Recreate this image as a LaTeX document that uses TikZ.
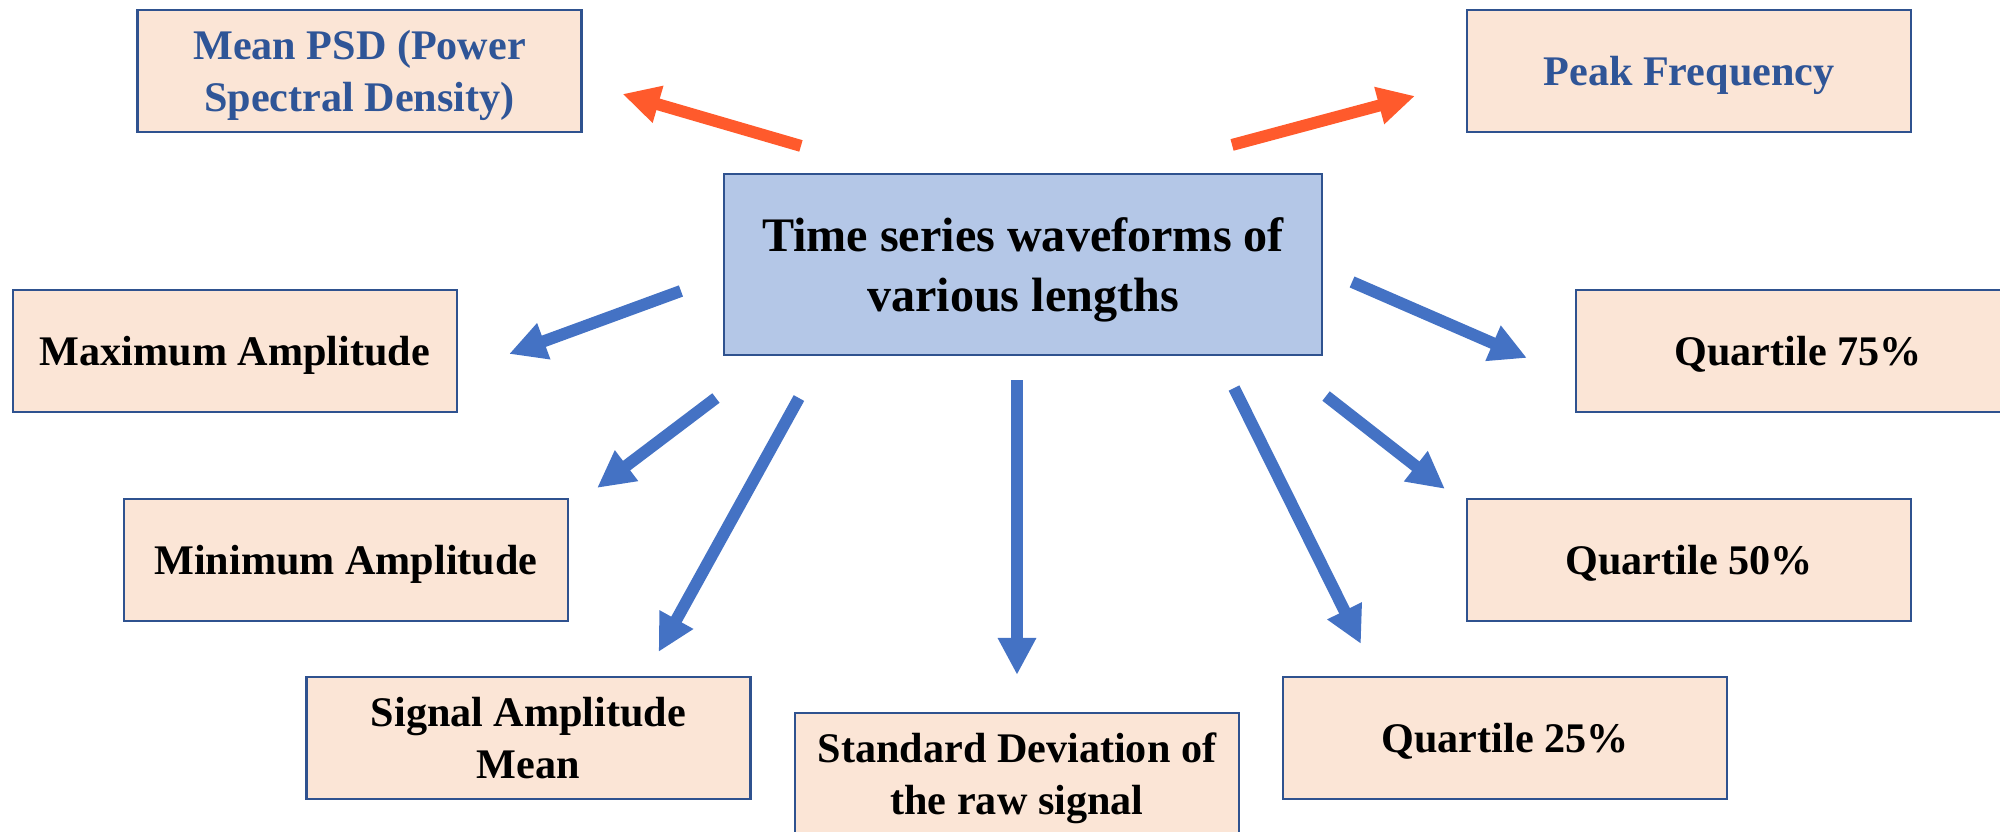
\documentclass[tikz,border=0pt]{standalone}
\usepackage{fontspec}
\setmainfont{Liberation Serif}
\usetikzlibrary{arrows.meta}
\definecolor{boxfill}{HTML}{FBE5D6}
\definecolor{boxline}{HTML}{2F528F}
\definecolor{srcfill}{HTML}{B4C7E7}
\definecolor{bluearrow}{HTML}{4472C4}
\definecolor{redarrow}{HTML}{FF5A2C}
\definecolor{psdtext}{HTML}{2F5597}
\tikzset{
  featbox/.style={draw=boxline, line width=0.6pt, fill=boxfill,
    minimum width=4.44cm, minimum height=1.22cm, inner sep=0pt, align=center,
    text depth=0pt, font=\bfseries\fontsize{12}{14.8}\selectfont},
  srcbox/.style={featbox, fill=srcfill, minimum width=5.98cm, minimum height=1.81cm,
    font=\bfseries\fontsize{13.7}{17.1}\selectfont},
  bluearr/.style={draw=bluearrow, line width=3.4pt, -{Triangle[length=0.37cm,width=0.36cm]}},
  redarr/.style={bluearr, draw=redarrow}
}
\begin{document}
\begin{tikzpicture}
  \useasboundingbox (0,0) rectangle (20,8.32);
  % central box
  \node[srcbox] (src) at (10.23,5.675) {Time series waveforms of\\various lengths};
  % frequency features (top)
  \node[featbox, text=psdtext] (psd) at (3.595,7.61) {Mean PSD (Power\\Spectral Density)};
  \node[featbox, text=psdtext] (peak) at (16.89,7.61) {Peak Frequency};
  % amplitude and quartile features
  \node[featbox] (maxamp) at (2.35,4.81) {Maximum Amplitude};
  \node[featbox] (q75) at (17.98,4.81) {Quartile 75\%};
  \node[featbox] (minamp) at (3.46,2.72) {Minimum Amplitude};
  \node[featbox] (q50) at (16.89,2.72) {Quartile 50\%};
  \node[featbox] (sigmean) at (5.285,0.94) {Signal Amplitude\\Mean};
  \node[featbox] (q25) at (15.05,0.94) {Quartile 25\%};
  \node[featbox] (stddev) at (10.17,0.58) {Standard Deviation of\\the raw signal};
  % orange arrows
  \draw[redarr] ([shift={(0.78,0.27)}]src.north west) -- ([shift={(0.40,-0.23)}]psd.east);
  \draw[redarr] ([shift={(-0.91,0.28)}]src.north east) -- ([shift={(-0.51,-0.25)}]peak.west);
  % blue arrows
  \draw[bluearr] ([shift={(-0.42,-0.265)}]src.west) -- ([shift={(0.51,-0.03)}]maxamp.east);
  \draw[bluearr] ([shift={(0.29,-0.175)}]src.east) -- ([shift={(-0.48,-0.07)}]q75.west);
  \draw[bluearr] ([shift={(-0.07,-0.42)}]src.south west) -- ([shift={(0.28,0.10)}]minamp.north east);
  \draw[bluearr] ([shift={(0.76,-0.42)}]src.south west) -- ([shift={(-0.93,0.24)}]sigmean.north east);
  \draw[bluearr] ([yshift=-0.24cm]src.south -| stddev.north) -- ([yshift=0.37cm]stddev.north);
  \draw[bluearr] ([shift={(-0.89,-0.32)}]src.south east) -- ([shift={(0.79,0.32)}]q25.north west);
  \draw[bluearr] ([shift={(0.03,-0.40)}]src.south east) -- ([shift={(-0.21,0.09)}]q50.north west);
\end{tikzpicture}
\end{document}
